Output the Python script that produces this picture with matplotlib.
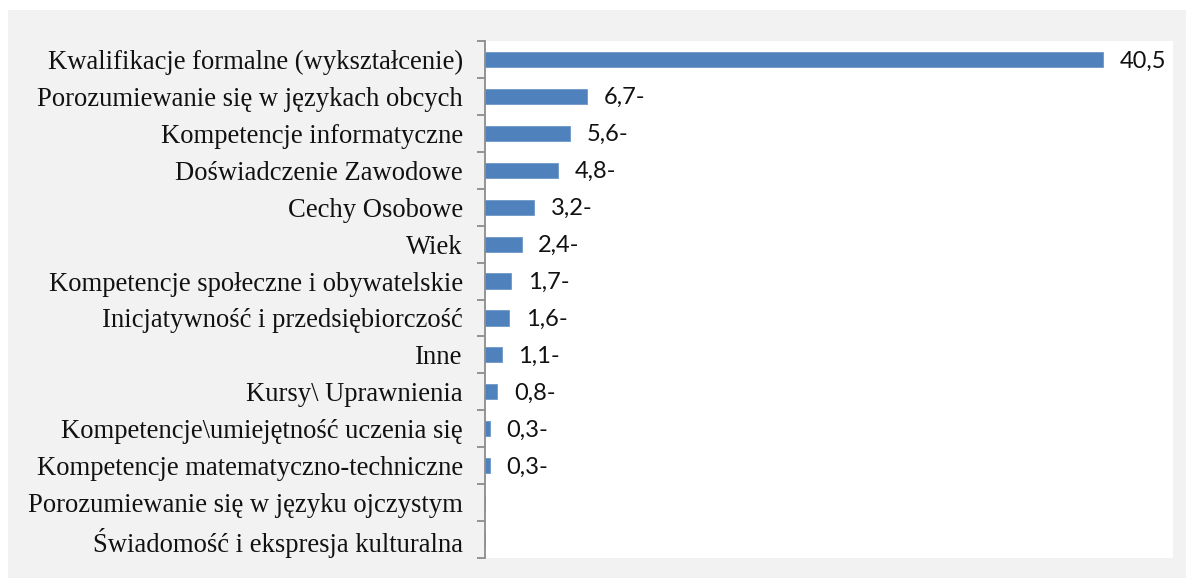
import numpy as np
import matplotlib.pyplot as plt
from matplotlib.patches import Rectangle
from matplotlib.ticker import FixedLocator

categories = [
    'Kwalifikacje formalne (wykształcenie)',
    'Porozumiewanie się w językach obcych',
    'Kompetencje informatyczne',
    'Doświadczenie Zawodowe',
    'Cechy Osobowe',
    'Wiek',
    'Kompetencje społeczne i obywatelskie',
    'Inicjatywność i przedsiębiorczość',
    'Inne',
    'Kursy\\ Uprawnienia',
    'Kompetencje\\umiejętność uczenia się',
    'Kompetencje matematyczno-techniczne',
    'Porozumiewanie się w języku ojczystym',
    'Świadomość i ekspresja kulturalna',
]
values = [40.5, 6.7, 5.6, 4.8, 3.2, 2.4, 1.7, 1.6, 1.1, 0.8, 0.3, 0.3, 0.0, 0.0]
value_labels = ['40,5', '6,7-', '5,6-', '4,8-', '3,2-', '2,4-', '1,7-', '1,6-',
                '1,1-', '0,8-', '0,3-', '0,3-', '', '']

W, H = 1186, 578
fig = plt.figure(figsize=(W / 100, H / 100), dpi=100)
fig.patch.set_facecolor('white')
fig.patches.append(Rectangle((8 / W, 0), 1, (H - 10) / H, transform=fig.transFigure,
                             facecolor='#F2F2F2', edgecolor='none', zorder=-10))

ax = fig.add_axes([485 / W, 1 - 558 / H, (1173 - 485) / W, (558 - 41) / H])
ax.set_facecolor('white')

y = np.arange(len(categories))
ax.barh(y, values, height=0.41, color='#4F81BD', edgecolor='#6E97C8', linewidth=0.6)
ax.set_ylim(len(categories) - 0.5, -0.5)
ax.set_xlim(0, 45.1)

ax.set_yticks(y)
ax.set_yticklabels(categories, family='Liberation Serif', fontsize=19.2, color='#111111')
ax.tick_params(axis='y', which='major', length=0, pad=16)
ax.yaxis.set_minor_locator(FixedLocator(np.arange(-0.5, len(categories), 1.0)))
ax.tick_params(axis='y', which='minor', length=6, width=1.3, color='#8C8C8C', direction='out')
ax.set_xticks([])

for s in ['top', 'right', 'bottom']:
    ax.spines[s].set_visible(False)
ax.spines['left'].set_color('#8C8C8C')
ax.spines['left'].set_linewidth(1.3)

for yi, v, lab in zip(y, values, value_labels):
    if lab:
        ax.annotate(lab, (v, yi), xytext=(12, -1), textcoords='offset points',
                    ha='left', va='center', family='Lato', fontsize=17, color='#111111')

fig.savefig('out.png', dpi=100, facecolor=fig.get_facecolor())
